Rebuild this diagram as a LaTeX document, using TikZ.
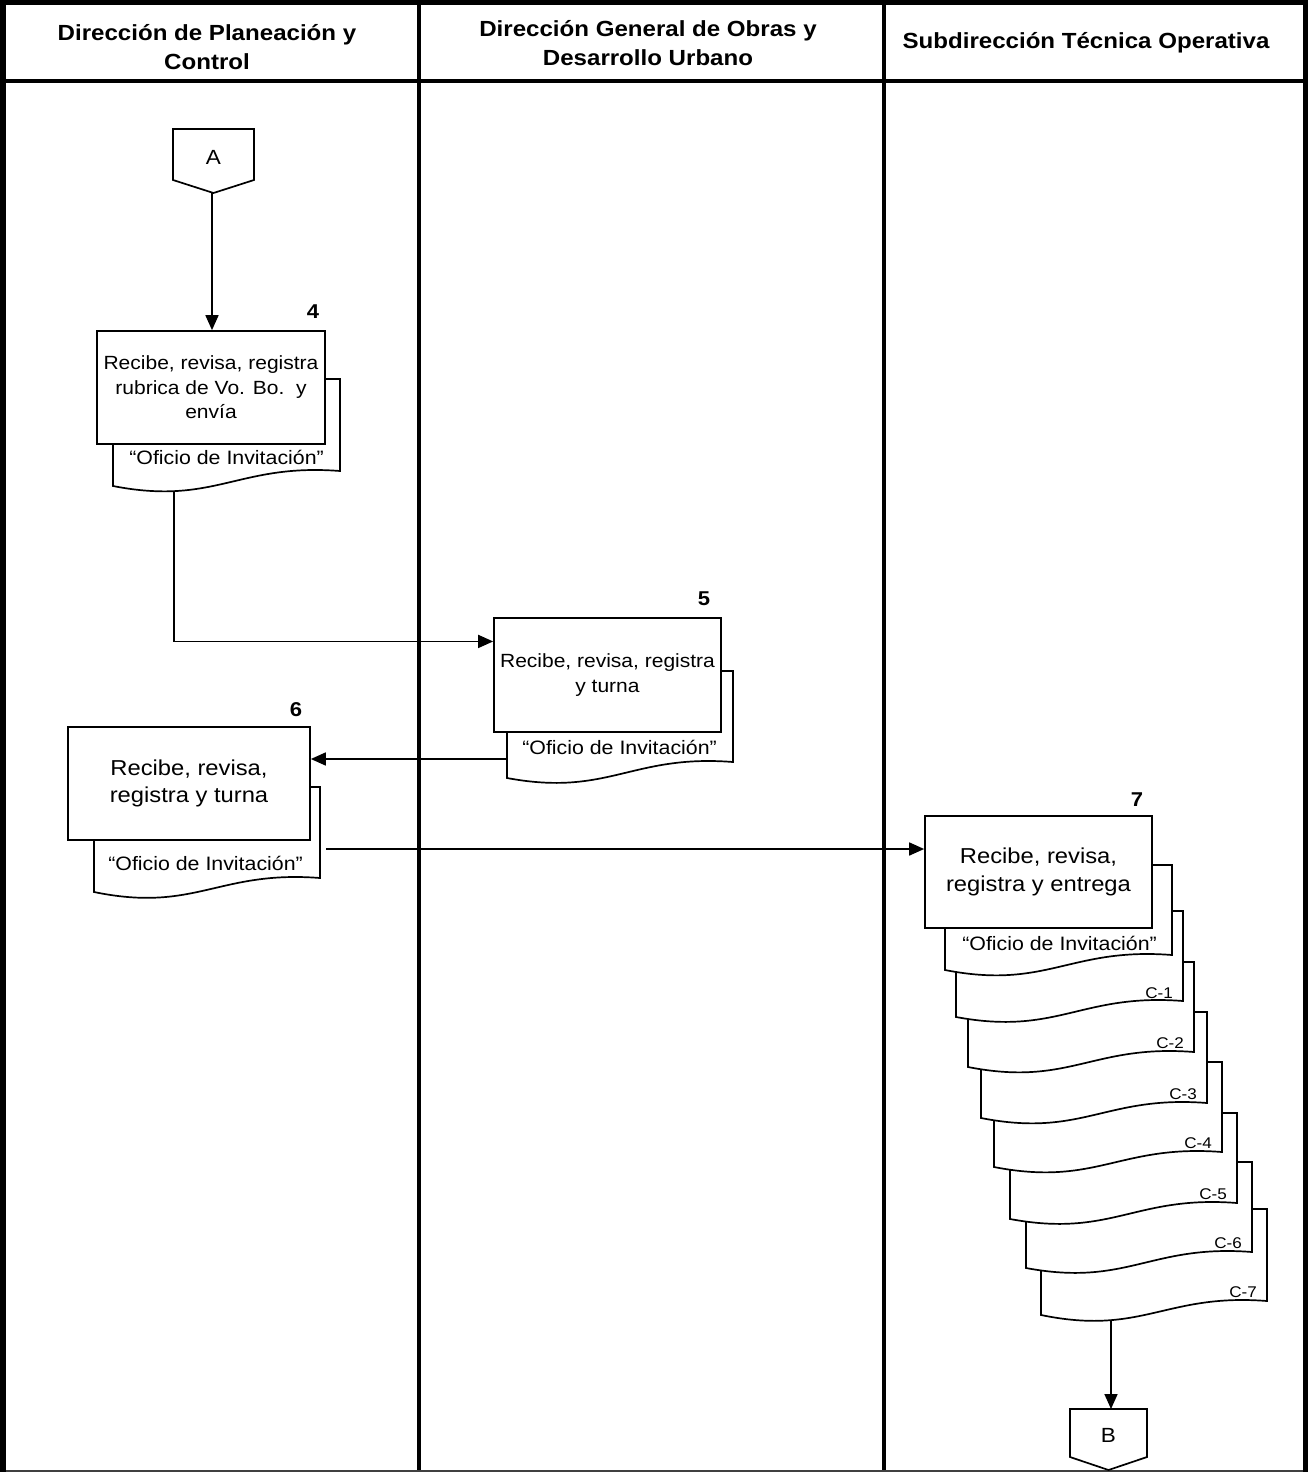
\documentclass[tikz,border=0pt]{standalone}
\usepackage{fontspec}
\setmainfont{Liberation Sans}[FakeStretch=1.1]
\usetikzlibrary{arrows.meta,calc}
\tikzset{
  frame/.style={line width=#1, black},
  box/.style={draw, line width=1.7, fill=white, inner sep=0pt, align=center},
  docst/.style={draw, line width=1.7, fill=white, line join=miter},
  arr/.style={line width=1.7, -{Triangle[length=15pt,width=13pt]}},
  lnk/.style={line width=1.7},
  hdr/.style={font=\bfseries\fontsize{21.9}{29.7}\selectfont, align=center, inner sep=0pt},
  num/.style={font=\bfseries\fontsize{20}{24}\selectfont, inner sep=0pt},
  smtxt/.style={font=\fontsize{19.1}{24.5}\selectfont, align=center, inner sep=0pt},
  bigtxt/.style={font=\fontsize{21.6}{27.5}\selectfont, align=center, inner sep=0pt},
  lbl/.style={font=\fontsize{19.4}{23}\selectfont, inner sep=0pt},
  clbl/.style={font=\fontsize{15.5}{18}\selectfont, inner sep=0pt},
  conn/.style={draw, line width=1.7, fill=white, line join=miter},
}
% document shape: #1 name, #2 left, #3 top, #4 right, #5 bottom-right y, #6 wave-left y
\newcommand\docsh[6]{%
  \pgfmathsetmacro\dcA{#2+0.55*(#4-#2)}%
  \pgfmathsetmacro\dcB{#2+0.45*(#4-#2)}%
  \draw[docst] (#2,#3) -- (#4,#3) -- (#4,#5) .. controls (\dcA,#5-8) and (\dcB,#5+35) .. (#2,#6) -- cycle;%
  \coordinate (#1-se) at (#4,#5);%
}
\begin{document}
\begin{tikzpicture}[x=1pt,y=-1pt]
\useasboundingbox (0,0) rectangle (1308,1472);
\fill[white] (0,0) rectangle (1308,1472);

% frame and lanes
\draw[frame=3.5] (0,81) -- (1303,81);
\draw[frame=3.8] (419,0) -- (419,1472);
\draw[frame=4] (884,0) -- (884,1472);
\draw[line width=2, black!75] (0,1470.8) -- (1308,1470.8);
\draw[frame=5] (0,2.5) -- (1308,2.5);
\draw[frame=5.5] (2.75,0) -- (2.75,1472);
\draw[frame=5.5] (1305.25,0) -- (1305.25,1472);

% headers
\node[hdr] (h1) at (207,47) {Dirección de Planeación y\\Control};
\node[hdr] (h2) at (648,43) {Dirección General de Obras y\\Desarrollo Urbano};
\node[hdr] (h3) at (1086,42.5) {Subdirección Técnica Operativa};

% connector A
\draw[conn] (173,129) -- (254,129) -- (254,180) -- (213.5,193) -- (173,180) -- cycle;
\coordinate (Atip) at (212,193);
\node[font=\fontsize{20.5}{24}\selectfont, inner sep=0pt] (A) at (213.5,157) {A};

% step 4
\docsh{d4}{113}{379}{340}{471}{486}
\node[box, minimum width=228, minimum height=113, smtxt] (b4) at (211,387.5) {Recibe, revisa, registra\\rubrica de Vo. Bo.\ \ y\\envía};
\node[lbl, anchor=east] (l4) at (324,457) {“Oficio de Invitación”};
\node[num] (n4) at (313,312) {4};
\coordinate (d4bot) at (174,491);

% step 5
\docsh{d5}{507}{671}{733}{762}{778}
\node[box, minimum width=227, minimum height=114, smtxt] (b5) at (607.5,675) {Recibe, revisa, registra\\y turna};
\node[lbl, anchor=east] (l5) at (717,747) {“Oficio de Invitación”};
\node[num] (n5) at (704,599) {5};
\coordinate (d5w) at (507,759);

% step 6
\docsh{d6}{94}{787}{320}{878}{892}
\node[box, minimum width=242, minimum height=113, bigtxt] (b6) at (189,783.5) {Recibe, revisa,\\registra y turna};
\node[lbl, anchor=east] (l6) at (303,863) {“Oficio de Invitación”};
\node[num] (n6) at (296,710) {6};
\coordinate (d6e) at (326,849);

% step 7 with copies
\docsh{c7}{1041}{1209}{1267}{1301}{1315}
\docsh{c6}{1026}{1162}{1252}{1252}{1268}
\docsh{c5}{1010}{1113}{1237}{1203}{1219}
\docsh{c4}{994}{1062}{1222}{1152}{1167}
\docsh{c3}{981}{1012}{1207}{1103}{1118}
\docsh{c2}{968}{962}{1194}{1052}{1067}
\docsh{c1}{956}{911}{1183}{1001}{1017}
\docsh{d7}{945}{865}{1172}{955}{970}
\node[box, minimum width=227, minimum height=112, bigtxt] (b7) at (1038.5,872) {Recibe, revisa,\\registra y entrega};
\node[lbl, anchor=east] (l7) at (1157,943) {“Oficio de Invitación”};
\node[num] (n7) at (1137,800) {7};
\node[clbl, anchor=east] (lc1) at (1173,993) {C-1};
\node[clbl, anchor=east] (lc2) at (1184,1043) {C-2};
\node[clbl, anchor=east] (lc3) at (1197,1094) {C-3};
\node[clbl, anchor=east] (lc4) at (1212,1143) {C-4};
\node[clbl, anchor=east] (lc5) at (1227,1194) {C-5};
\node[clbl, anchor=east] (lc6) at (1242,1243) {C-6};
\node[clbl, anchor=east] (lc7) at (1257,1292) {C-7};
\coordinate (c7bot) at (1111,1321);

% connector B
\draw[conn] (1070,1409) -- (1147,1409) -- (1147,1457) -- (1108.5,1470) -- (1070,1457) -- cycle;
\node[font=\fontsize{20.5}{24}\selectfont, inner sep=0pt] (B) at (1108.5,1435) {B};
\coordinate (Btop) at (1111,1409);

% connectors
\draw[arr] (Atip) -- (Atip |- b4.north);
\draw[arr] (d4bot) |- ($(b5.north west)!0.21!(b5.south west)$);
\draw[arr] (d5w) -- (d5w -| b6.east);
\draw[arr] (d6e) -- (d6e -| b7.west);
\draw[arr] (c7bot) -- (Btop);
\end{tikzpicture}
\end{document}
